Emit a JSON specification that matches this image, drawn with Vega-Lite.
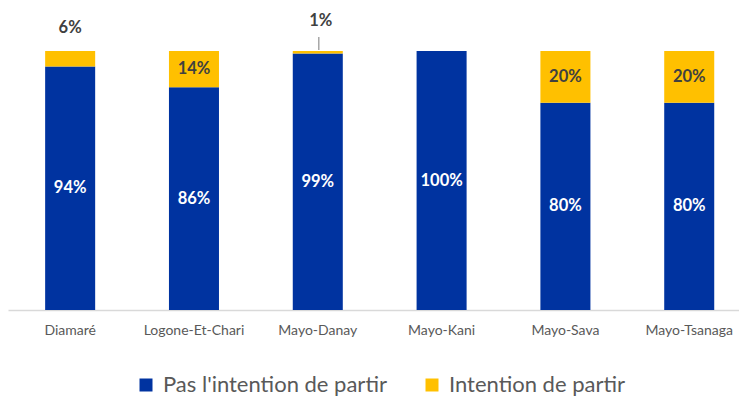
{
  "$schema": "https://vega.github.io/schema/vega-lite/v6.json",
  "width": 731,
  "height": 259,
  "autosize": {"type": "none"},
  "padding": {"left": 8, "top": 51, "right": 0, "bottom": 97},
  "config": {"view": {"stroke": null}, "font": "Lato"},
  "data": {
    "values": [
      {"region": "Diamaré", "serie": "Pas l'intention de partir", "ord": 1, "value": 0.94, "label": "94%"},
      {"region": "Diamaré", "serie": "Intention de partir", "ord": 2, "value": 0.06, "label": "6%"},
      {"region": "Logone-Et-Chari", "serie": "Pas l'intention de partir", "ord": 1, "value": 0.86, "label": "86%"},
      {"region": "Logone-Et-Chari", "serie": "Intention de partir", "ord": 2, "value": 0.14, "label": "14%"},
      {"region": "Mayo-Danay", "serie": "Pas l'intention de partir", "ord": 1, "value": 0.99, "label": "99%"},
      {"region": "Mayo-Danay", "serie": "Intention de partir", "ord": 2, "value": 0.01, "label": "1%"},
      {"region": "Mayo-Kani", "serie": "Pas l'intention de partir", "ord": 1, "value": 1.0, "label": "100%"},
      {"region": "Mayo-Kani", "serie": "Intention de partir", "ord": 2, "value": 0.0, "label": ""},
      {"region": "Mayo-Sava", "serie": "Pas l'intention de partir", "ord": 1, "value": 0.80, "label": "80%"},
      {"region": "Mayo-Sava", "serie": "Intention de partir", "ord": 2, "value": 0.20, "label": "20%"},
      {"region": "Mayo-Tsanaga", "serie": "Pas l'intention de partir", "ord": 1, "value": 0.80, "label": "80%"},
      {"region": "Mayo-Tsanaga", "serie": "Intention de partir", "ord": 2, "value": 0.20, "label": "20%"}
    ]
  },
  "encoding": {
    "x": {
      "field": "region", "type": "nominal", "sort": null,
      "scale": {"paddingInner": 0.596, "paddingOuter": 0.25, "align": 0.6},
      "axis": {"title": null, "labelAngle": 0, "ticks": false, "domainColor": "#d9d9d9", "domainWidth": 1.5, "labelColor": "#595959", "labelFontSize": 14, "labelPadding": 13, "labelFont": "Lato"}
    }
  },
  "resolve": {"scale": {"y": "independent"}},
  "layer": [
    {
      "mark": {"type": "bar"},
      "encoding": {
        "y": {"field": "value", "type": "quantitative", "stack": "zero", "scale": {"domain": [0, 1]}, "axis": null},
        "order": {"field": "ord", "type": "quantitative"},
        "color": {
          "field": "serie", "type": "nominal",
          "scale": {"domain": ["Pas l'intention de partir", "Intention de partir"], "range": ["#0033A0", "#FFC000"]},
          "legend": {"title": null, "orient": "none", "legendX": 127, "legendY": 323, "direction": "horizontal", "symbolType": "square", "symbolSize": 169, "symbolStrokeWidth": 0, "labelFontSize": 22, "labelColor": "#595959", "labelFont": "Lato", "columnPadding": 34, "labelOffset": 6, "labelLimit": 400}
        }
      }
    },
    {
      "transform": [{"filter": "datum.ord == 1"}],
      "mark": {"type": "text", "color": "white", "fontWeight": "bold", "fontSize": 16.5, "baseline": "middle"},
      "encoding": {
        "y": {"field": "value", "type": "quantitative", "stack": null, "scale": {"domain": [0, 2]}, "axis": null},
        "text": {"field": "label"}
      }
    },
    {
      "transform": [{"filter": "datum.ord == 2 && datum.value >= 0.1"}],
      "mark": {"type": "text", "color": "#404040", "fontWeight": "bold", "fontSize": 16.5, "baseline": "middle"},
      "encoding": {
        "y": {"field": "value", "type": "quantitative", "stack": null, "scale": {"domain": [0, 2], "reverse": true}, "axis": null},
        "text": {"field": "label"}
      }
    },
    {
      "transform": [{"filter": "datum.region == 'Diamaré' && datum.ord == 2"}],
      "mark": {"type": "text", "color": "#404040", "fontWeight": "bold", "fontSize": 16.5, "baseline": "middle", "dy": -23},
      "encoding": {
        "y": {"datum": 1, "type": "quantitative", "scale": {"domain": [0, 1]}, "axis": null},
        "text": {"field": "label"}
      }
    },
    {
      "transform": [{"filter": "datum.region == 'Mayo-Danay' && datum.ord == 2"}],
      "mark": {"type": "text", "color": "#404040", "fontWeight": "bold", "fontSize": 16.5, "baseline": "middle", "dy": -30, "dx": 3},
      "encoding": {
        "y": {"datum": 1, "type": "quantitative", "scale": {"domain": [0, 1]}, "axis": null},
        "text": {"field": "label"}
      }
    },
    {
      "transform": [{"filter": "datum.region == 'Mayo-Danay' && datum.ord == 2"}],
      "mark": {"type": "rule", "color": "#a6a6a6", "strokeWidth": 1.5, "yOffset": -1, "y2Offset": -14, "xOffset": 1},
      "encoding": {
        "y": {"datum": 1, "type": "quantitative", "scale": {"domain": [0, 1]}, "axis": null},
        "y2": {"datum": 1}
      }
    }
  ]
}
